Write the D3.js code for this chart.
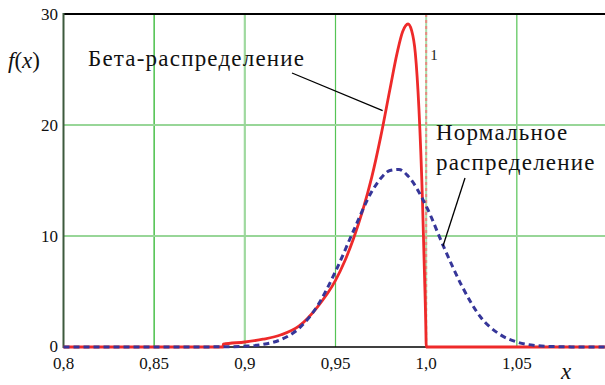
<!DOCTYPE html>
<html>
<head>
<meta charset="utf-8">
<script src="https://cdn.jsdelivr.net/npm/d3@7"></script>
<style>
  body { margin: 0; background: #fff; }
  svg { display: block; }
</style>
</head>
<body>
<svg id="chart" width="605" height="385"></svg>
<script>
// ---- Data ----
const xTicks = [0.8, 0.85, 0.9, 0.95, 1.0, 1.05];
const xTickLabels = ["0,8", "0,85", "0,9", "0,95", "1,0", "1,05"];
const yTicks = [0, 10, 20, 30];

// beta density
const betaX = [0.80, 0.888, 0.8881, 0.90, 0.91, 0.92, 0.93, 0.94, 0.95, 0.955, 0.96, 0.965, 0.97, 0.975, 0.98, 0.984, 0.987, 0.99, 0.992, 0.994, 0.996, 0.998, 0.999, 0.9999, 1.0, 1.10];
const betaY = [0, 0, 0.25, 0.45, 0.7, 1.1, 1.9, 3.6, 6.0, 7.7, 9.8, 12.3, 15.3, 19.0, 23.2, 26.5, 28.4, 29.1, 28.5, 26.5, 21.5, 13.0, 7.0, 1.0, 0, 0];

// normal density
const normX = [0.80, 0.85, 0.88, 0.89, 0.90, 0.91, 0.92, 0.93, 0.94, 0.95, 0.96, 0.97, 0.975, 0.98, 0.985, 0.99, 1.00, 1.01, 1.02, 1.03, 1.04, 1.05, 1.06, 1.07, 1.08, 1.10];
const normY = [0, 0, 0.01, 0.02, 0.07, 0.23, 0.67, 1.7, 3.7, 6.8, 10.5, 14.0, 15.2, 15.9, 16.0, 15.4, 12.7, 8.9, 5.4, 2.7, 1.2, 0.45, 0.14, 0.04, 0.01, 0];

// ---- Layout ----
const plotLeft = 63.5, plotRight = 607.5, plotTop = 14, plotBottom = 347;
const serif = "Liberation Serif, DejaVu Serif, Times New Roman, serif";
const svg = d3.select("#chart")
  .attr("font-family", serif);

const x = d3.scaleLinear().domain([0.8, 1.1]).range([plotLeft, plotRight]);
const y = d3.scaleLinear().domain([0, 30]).range([plotBottom, plotTop]);

function label(px, py, size, str) {
  return svg.append("text")
    .attr("x", px).attr("y", py)
    .attr("font-family", serif)
    .attr("font-size", size)
    .attr("fill", "#111")
    .text(str);
}

// ---- Grid ----
const grid = svg.append("g");
const vStyle = {
  0.85: { c: "#55c455", w: 1.6 },
  0.9:  { c: "#9fd99f", w: 2.2 },
  0.95: { c: "#55c455", w: 1.2 },
  1.05: { c: "#55c455", w: 1.2 }
};
[0.85, 0.9, 0.95, 1.05].forEach(v => {
  grid.append("line")
    .attr("x1", x(v)).attr("x2", x(v))
    .attr("y1", plotTop).attr("y2", plotBottom)
    .attr("stroke", vStyle[v].c).attr("stroke-width", vStyle[v].w);
});
[10, 20].forEach(v => {
  grid.append("line")
    .attr("x1", plotLeft).attr("x2", 605)
    .attr("y1", y(v)).attr("y2", y(v))
    .attr("stroke", "#98d698").attr("stroke-width", 2.2);
});

// marker line at x = 1
grid.append("line")
  .attr("x1", x(1.0)).attr("x2", x(1.0))
  .attr("y1", plotTop).attr("y2", plotBottom)
  .attr("stroke", "#a9dca9").attr("stroke-width", 2);
grid.append("line")
  .attr("x1", x(1.0)).attr("x2", x(1.0))
  .attr("y1", plotTop).attr("y2", plotBottom)
  .attr("stroke", "#e88a80").attr("stroke-width", 2)
  .attr("stroke-dasharray", "3,3");
label(x(1.0) + 4, 60, 15, "1").attr("fill", "#222");

// ---- Axes frame ----
svg.append("line")
  .attr("x1", plotLeft).attr("x2", 605)
  .attr("y1", plotTop).attr("y2", plotTop)
  .attr("stroke", "#000").attr("stroke-width", 2);
svg.append("line")
  .attr("x1", plotLeft).attr("x2", 605)
  .attr("y1", plotBottom).attr("y2", plotBottom)
  .attr("stroke", "#000").attr("stroke-width", 1.5);
svg.append("line")
  .attr("x1", plotLeft).attr("x2", plotLeft)
  .attr("y1", plotTop - 1).attr("y2", plotBottom + 1)
  .attr("stroke", "#3d5a3d").attr("stroke-width", 2);

// ---- Curves ----
const line = d3.line()
  .x(d => x(d[0]))
  .y(d => y(d[1]))
  .curve(d3.curveMonotoneX);

svg.append("path")
  .datum(betaX.map((v, i) => [v, betaY[i]]))
  .attr("d", line)
  .attr("fill", "none")
  .attr("stroke", "#ee2a2a")
  .attr("stroke-width", 2.8)
  .attr("stroke-linejoin", "round");

svg.append("path")
  .datum(normX.map((v, i) => [v, normY[i]]))
  .attr("d", line)
  .attr("fill", "none")
  .attr("stroke", "#363699")
  .attr("stroke-width", 3)
  .attr("stroke-dasharray", "6,4");

// ---- Tick labels ----
xTicks.forEach((d, i) => {
  label(x(d), 369, 17, xTickLabels[i]).attr("text-anchor", "middle");
});
yTicks.forEach(d => {
  label(58, d === 0 ? y(d) + 5 : y(d) + 6, 17, d).attr("text-anchor", "end");
});

// ---- Axis titles ----
label(8, 68, 23, null)
  .html('<tspan font-style="italic">f</tspan>(<tspan font-style="italic">x</tspan>)');
label(561, 379, 23, "x").attr("font-style", "italic");

// ---- Annotations ----
label(88, 66, 23, "Бета-распределение").attr("letter-spacing", 1.2);
svg.append("line")
  .attr("x1", 292).attr("y1", 73)
  .attr("x2", x(0.976)).attr("y2", y(21.3))
  .attr("stroke", "#000").attr("stroke-width", 1.3);

label(436, 140, 23, "Нормальное").attr("letter-spacing", 1.2);
label(436, 170, 23, "распределение").attr("letter-spacing", 1.2);
svg.append("line")
  .attr("x1", 465).attr("y1", 178)
  .attr("x2", 443).attr("y2", 246)
  .attr("stroke", "#000").attr("stroke-width", 1.3);
</script>
</body>
</html>
